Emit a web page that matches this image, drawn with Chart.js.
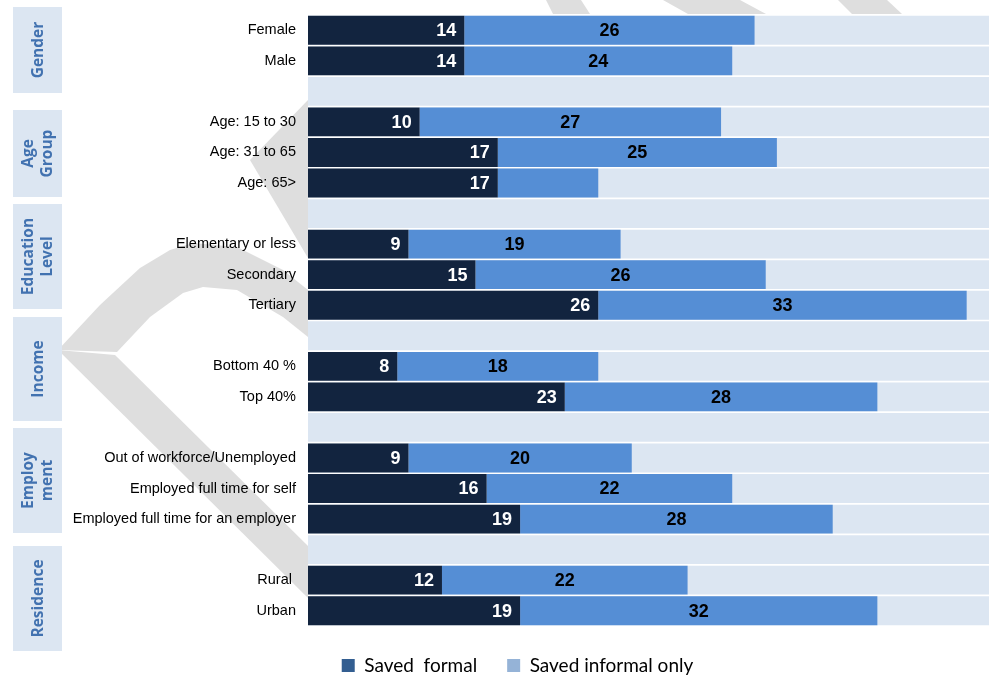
<!DOCTYPE html>
<html>
<head>
<meta charset="utf-8">
<script src="https://cdn.jsdelivr.net/npm/chart.js@4.4.1/dist/chart.umd.min.js"></script>
<style>
  html, body { margin: 0; padding: 0; background: #fff; }
</style>
</head>
<body>
<canvas id="savingsChart" width="989" height="675"></canvas>
<script>
// rows of the chart, empty strings are the spacer rows between groups
var categories = ['Female', 'Male', '',
  'Age: 15 to 30', 'Age: 31 to 65', 'Age: 65>', '',
  'Elementary or less', 'Secondary', 'Tertiary', '',
  'Bottom 40 %', 'Top 40%', '',
  'Out of workforce/Unemployed', 'Employed full time for self', 'Employed full time for an employer', '',
  'Rural ', 'Urban'];
var savedFormal = [14, 14, null, 10, 17, 17, null, 9, 15, 26, null, 8, 23, null, 9, 16, 19, null, 12, 19];
var savedInformal = [26, 24, null, 27, 25, 9, null, 19, 26, 33, null, 18, 28, null, 20, 22, 28, null, 22, 32];
// the 65> row has no printed label for the informal part
var informalLabels = ['26', '24', '', '27', '25', '', '', '19', '26', '33', '', '18', '28', '', '20', '22', '28', '', '22', '32'];
var seriesNames = ['Saved  formal', 'Saved informal only'];
var groupNames = [['Gender'], ['Age', 'Group'], ['Education', 'Level'], ['Income'], ['Employ', 'ment'], ['Residence']];
var xMax = 61;
var rowBackground = categories.map(function () { return xMax; });

var barColors = ['#12243f', '#558ed5'];
var legendColors = ['#335e91', '#95b3d7'];
var rowColor = '#dce6f2';
var groupTextColor = '#4272b0';
var wmColor = '#dedede';

// pixel extents of the group boxes on the left
var groupBoxes = [[7, 93], [110, 197], [204, 309], [317, 421], [428, 533], [546, 651]];

// grey watermark shapes behind the chart
var watermark = [
  [[58, 350], [308, 598], [308, 546], [115, 355]],
  [[58, 350], [100, 305], [140, 268], [170, 250], [193, 243], [237, 247], [283, 270], [308, 290],
   [308, 337], [283, 317], [237, 290], [203, 287], [183, 293], [150, 317], [117, 352]],
  [[308, 100], [250, 160], [308, 258]],
  [[546, 0], [581, 0], [590, 14], [553, 14]],
  [[663, 0], [740, 0], [766, 14], [688, 14]],
  [[838, 0], [887, 0], [902, 14], [852, 14]]
];

var backdrop = {
  id: 'backdrop',
  beforeDraw: function (chart) {
    var ctx = chart.ctx;
    ctx.save();
    ctx.fillStyle = '#fff';
    ctx.fillRect(0, 0, chart.width, chart.height);
    ctx.fillStyle = wmColor;
    watermark.forEach(function (poly) {
      ctx.beginPath();
      poly.forEach(function (p, i) {
        if (i === 0) ctx.moveTo(p[0], p[1]); else ctx.lineTo(p[0], p[1]);
      });
      ctx.closePath();
      ctx.fill();
    });
    ctx.restore();
  }
};

var groupLabels = {
  id: 'groupLabels',
  afterDraw: function (chart) {
    var ctx = chart.ctx;
    ctx.save();
    ctx.font = 'bold 15.5px "Open Sans"';
    ctx.textAlign = 'center';
    ctx.textBaseline = 'middle';
    groupBoxes.forEach(function (b, i) {
      ctx.fillStyle = rowColor;
      ctx.fillRect(13, b[0], 49, b[1] - b[0]);
      var lines = groupNames[i];
      var cy = (b[0] + b[1]) / 2;
      ctx.fillStyle = groupTextColor;
      lines.forEach(function (t, j) {
        var cx = 37.5 + (j - (lines.length - 1) / 2) * 19;
        ctx.save();
        ctx.translate(cx, cy);
        ctx.rotate(-Math.PI / 2);
        ctx.fillText(t, 0, 1);
        ctx.restore();
      });
    });
    ctx.restore();
  }
};

var barLabels = {
  id: 'barLabels',
  afterDatasetsDraw: function (chart) {
    var ctx = chart.ctx;
    ctx.save();
    ctx.font = 'bold 18px "Liberation Sans"';
    ctx.textBaseline = 'middle';
    chart.getDatasetMeta(0).data.forEach(function (el, i) {
      if (savedFormal[i] == null) return;
      ctx.fillStyle = '#fff';
      ctx.textAlign = 'right';
      ctx.fillText(String(savedFormal[i]), el.x - 8, el.y + 1);
    });
    chart.getDatasetMeta(1).data.forEach(function (el, i) {
      if (!informalLabels[i]) return;
      ctx.fillStyle = '#000';
      ctx.textAlign = 'center';
      ctx.fillText(informalLabels[i], (el.x + el.base) / 2, el.y + 1);
    });
    ctx.restore();
  }
};

Chart.defaults.font.family = '"Liberation Sans", Arial, sans-serif';

new Chart(document.getElementById('savingsChart'), {
  type: 'bar',
  data: {
    labels: categories,
    datasets: [
      { label: seriesNames[0], data: savedFormal, backgroundColor: barColors[0], stack: 'main' },
      { label: seriesNames[1], data: savedInformal, backgroundColor: barColors[1], stack: 'main' },
      { label: 'bg', data: rowBackground, backgroundColor: rowColor, stack: 'bg', grouped: false }
    ]
  },
  options: {
    indexAxis: 'y',
    responsive: false,
    animation: false,
    devicePixelRatio: 1,
    barPercentage: 0.945,
    categoryPercentage: 1,
    layout: { padding: { left: 46, right: 0, top: 15, bottom: -10 } },
    scales: {
      x: { stacked: true, min: 0, max: xMax, display: false },
      y: {
        stacked: true,
        grid: { display: false, drawTicks: false },
        border: { display: false },
        ticks: { autoSkip: false, padding: 12, color: '#000', font: { size: 14.5 } },
        afterFit: function (scale) {
          scale.width = 262;
          scale.paddingTop = 0;
          scale.paddingBottom = 0;
        }
      }
    },
    plugins: {
      tooltip: { enabled: false },
      legend: {
        position: 'bottom',
        labels: {
          boxWidth: 13,
          boxHeight: 13,
          padding: 30,
          color: '#1a1a1a',
          font: { family: 'Lato', size: 19 },
          generateLabels: function () {
            return seriesNames.map(function (name, i) {
              return { text: name, fillStyle: legendColors[i], strokeStyle: legendColors[i], lineWidth: 0, datasetIndex: i, hidden: false };
            });
          }
        }
      }
    }
  },
  plugins: [backdrop, barLabels, groupLabels]
});
</script>
</body>
</html>
